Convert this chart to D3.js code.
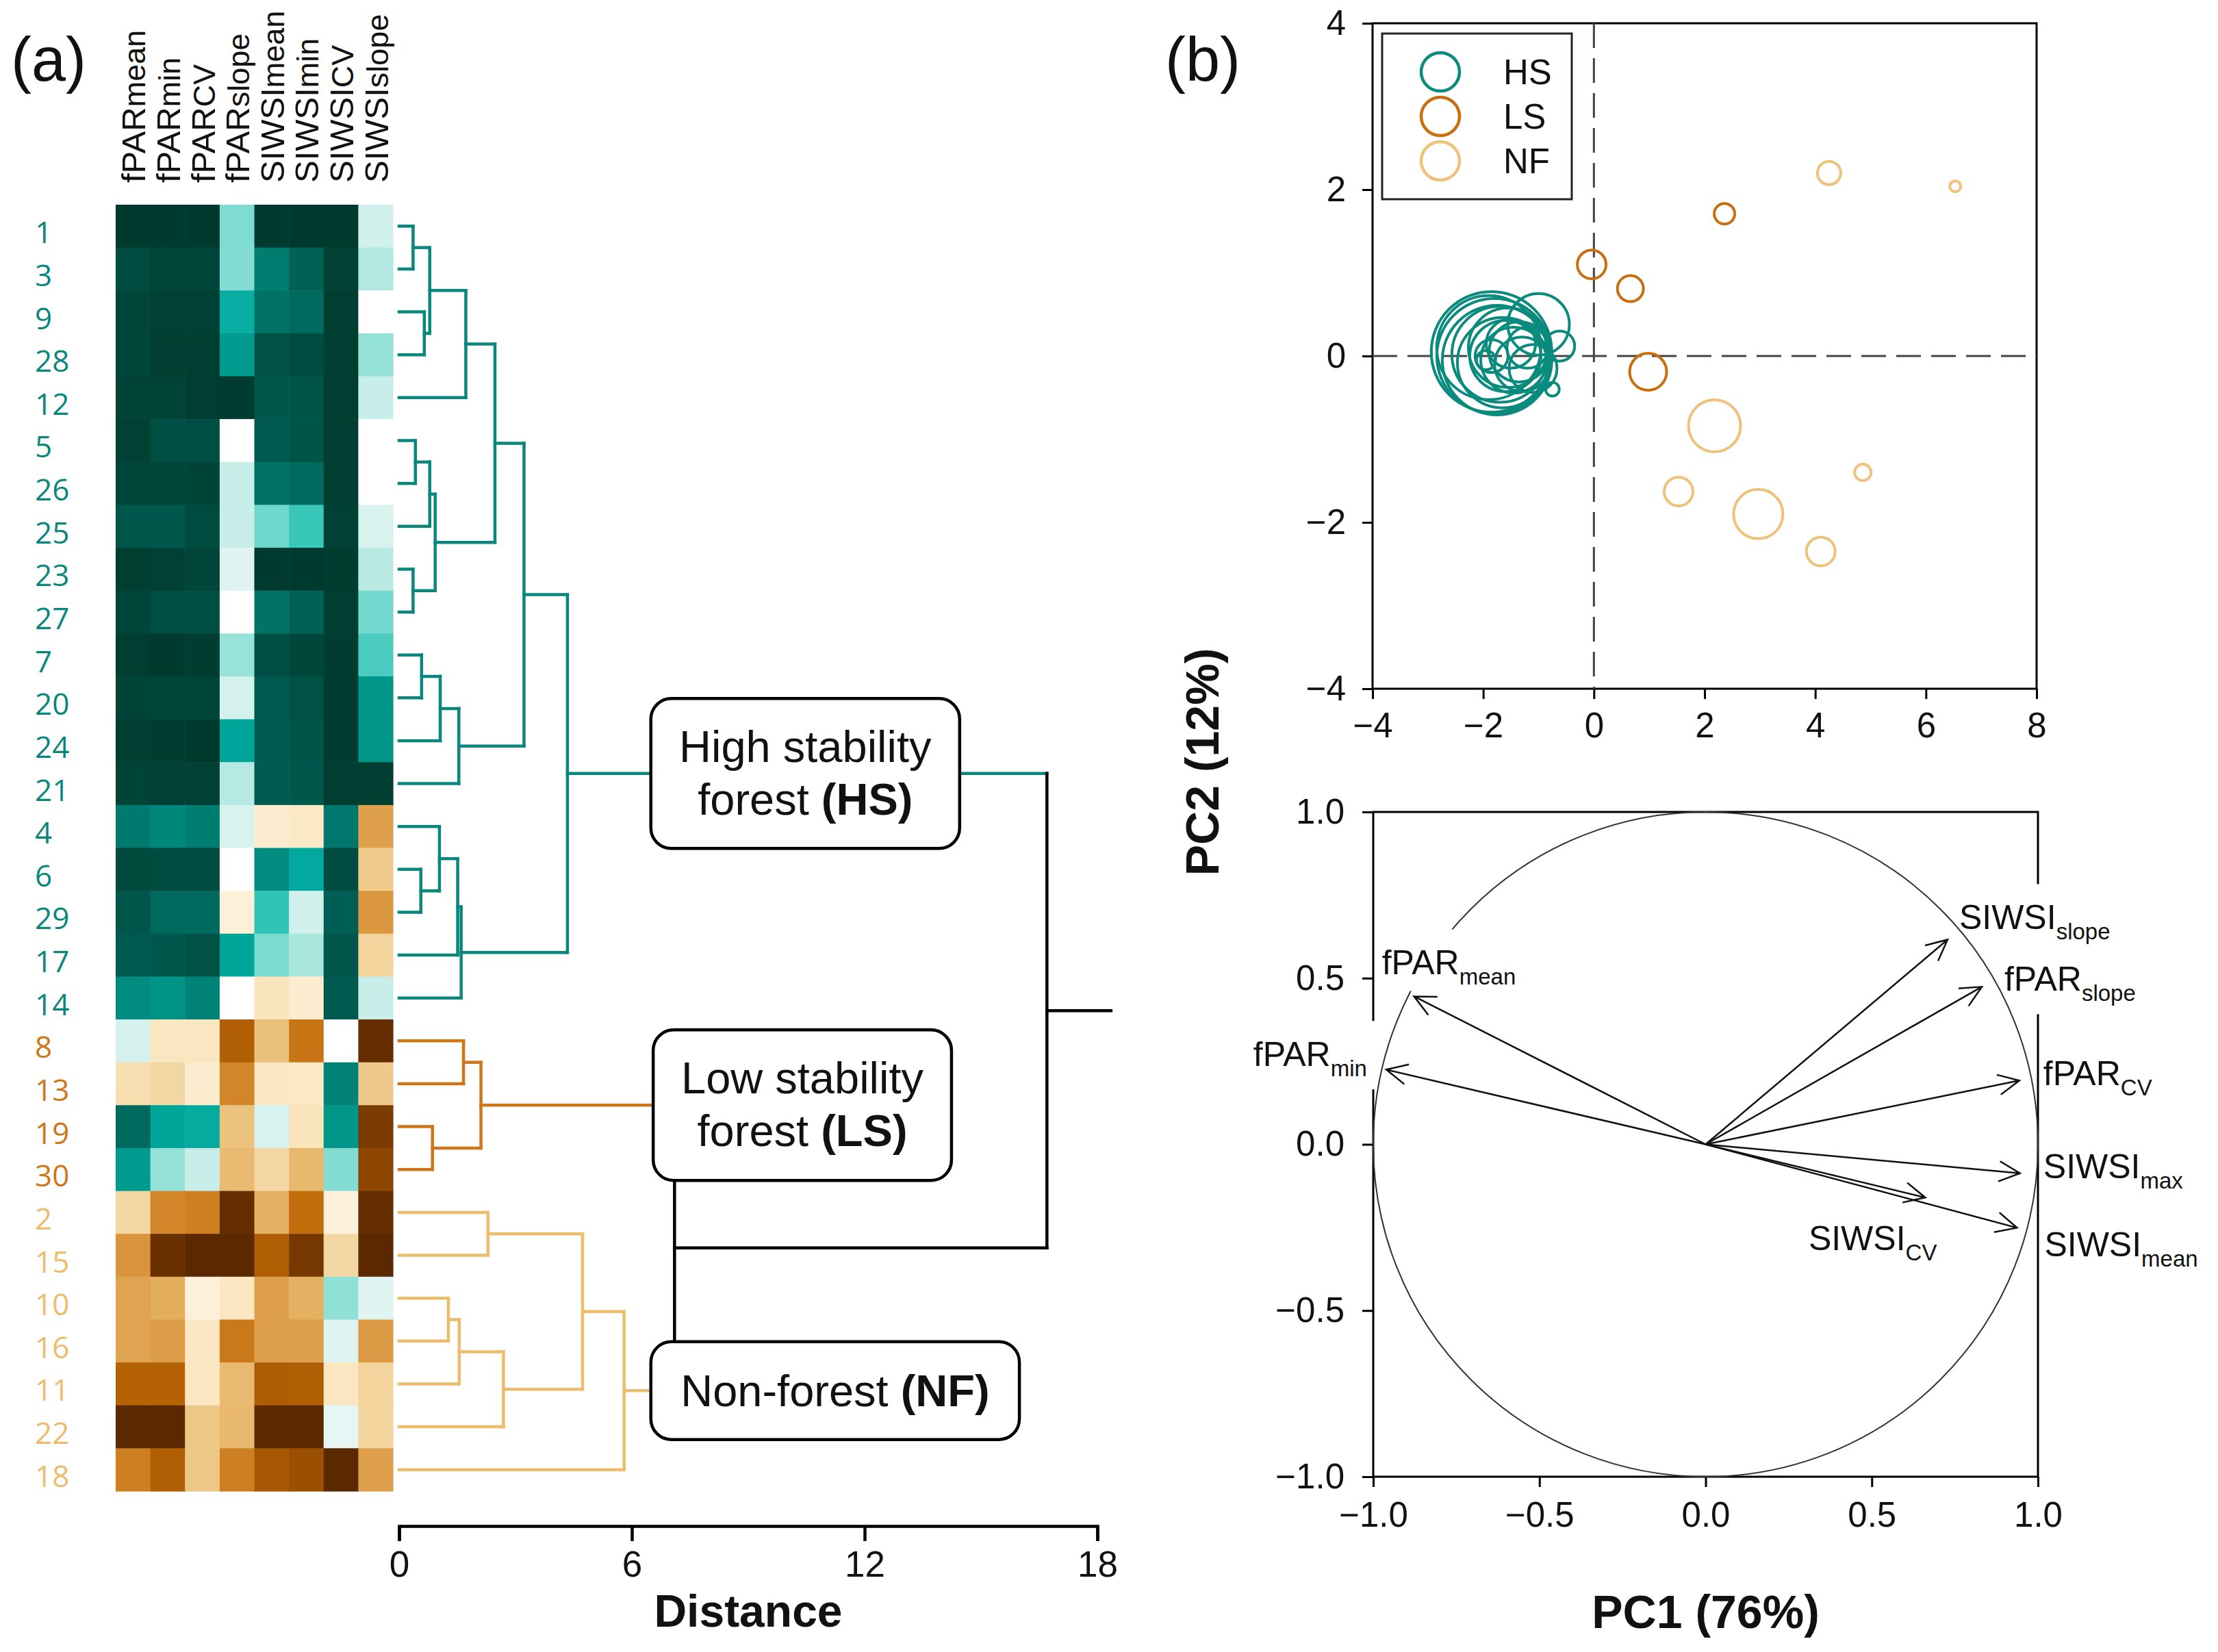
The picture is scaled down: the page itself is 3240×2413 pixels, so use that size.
<!DOCTYPE html>
<html>
<head>
<meta charset="utf-8">
<script src="https://cdn.jsdelivr.net/npm/d3@7"></script>
<style>
body { margin: 0; background: #fff; }
text { font-family: "Liberation Sans", Arial, sans-serif; fill: #111; }
</style>
</head>
<body>
<div id="plot"></div>
<script>
// ---------------- data ----------------
// heatmap columns (name|subscript)
var variables = ["fPAR|mean", "fPAR|min", "fPAR|CV", "fPAR|slope", "SIWSI|mean", "SIWSI|min", "SIWSI|CV", "SIWSI|slope"];
// sites, in dendrogram order
var rowIds = [1, 3, 9, 28, 12, 5, 26, 25, 23, 27, 7, 20, 24, 21, 4, 6, 29, 17, 14, 8, 13, 19, 30, 2, 15, 10, 16, 11, 22, 18];
var rowGroup = ["HS","HS","HS","HS","HS","HS","HS","HS","HS","HS","HS","HS","HS","HS","HS","HS","HS","HS","HS",
                "LS","LS","LS","LS","NF","NF","NF","NF","NF","NF","NF"];
// standardised values (-1 brown .. +1 teal), one row per site
var heatValues = [
  [1.00, 1.00, 1.00, 0.25, 1.00, 1.00, 1.00, 0.08],
  [0.92, 0.95, 0.95, 0.24, 0.72, 0.82, 0.97, 0.15],
  [0.95, 0.97, 0.97, 0.52, 0.76, 0.79, 0.98, 0.00],
  [0.95, 0.98, 0.98, 0.60, 0.89, 0.92, 0.98, 0.21],
  [0.96, 0.96, 0.98, 0.99, 0.86, 0.88, 0.98, 0.10],
  [0.97, 0.90, 0.90, 0.00, 0.85, 0.88, 0.98, 0.00],
  [0.95, 0.95, 0.96, 0.10, 0.76, 0.79, 0.98, 0.00],
  [0.87, 0.87, 0.92, 0.10, 0.28, 0.38, 0.97, 0.06],
  [0.98, 0.97, 0.95, 0.05, 1.00, 1.00, 0.99, 0.13],
  [0.95, 0.90, 0.90, 0.00, 0.76, 0.82, 0.98, 0.27],
  [0.98, 1.00, 0.99, 0.20, 0.90, 0.94, 0.99, 0.35],
  [0.96, 0.95, 0.95, 0.07, 0.85, 0.89, 0.99, 0.62],
  [0.98, 0.99, 1.00, 0.56, 0.85, 0.88, 0.99, 0.62],
  [0.96, 0.97, 0.97, 0.14, 0.85, 0.86, 0.98, 0.98],
  [0.73, 0.68, 0.72, 0.06, -0.05, -0.06, 0.74, -0.33],
  [0.93, 0.92, 0.92, 0.00, 0.66, 0.54, 0.92, -0.17],
  [0.87, 0.79, 0.79, -0.04, 0.40, 0.08, 0.83, -0.36],
  [0.85, 0.86, 0.89, 0.56, 0.26, 0.17, 0.87, -0.14],
  [0.66, 0.63, 0.70, 0.00, -0.08, -0.05, 0.85, 0.10],
  [0.07, -0.07, -0.07, -0.62, -0.22, -0.50, 0.00, -0.95],
  [-0.10, -0.13, -0.05, -0.42, -0.07, -0.06, 0.70, -0.18],
  [0.79, 0.56, 0.53, -0.21, 0.06, -0.08, 0.62, -0.85],
  [0.60, 0.21, 0.10, -0.24, -0.13, -0.25, 0.24, -0.78],
  [-0.13, -0.42, -0.45, -0.95, -0.28, -0.53, -0.04, -0.95],
  [-0.37, -0.93, -0.99, -0.99, -0.62, -0.88, -0.13, -0.99],
  [-0.32, -0.29, -0.04, -0.07, -0.33, -0.28, 0.22, 0.05],
  [-0.32, -0.34, -0.07, -0.48, -0.33, -0.33, 0.05, -0.35],
  [-0.60, -0.60, -0.07, -0.24, -0.63, -0.62, -0.07, -0.14],
  [-0.99, -0.99, -0.19, -0.25, -0.99, -0.99, 0.04, -0.14],
  [-0.45, -0.62, -0.19, -0.45, -0.66, -0.72, -0.99, -0.33]
];
// hierarchical clustering merges: a, b = site number or merge id, h = distance
var merges = [
  {id: "m1",  a: 1,     b: 3,     h: 0.36, group: "HS"},
  {id: "m2",  a: 9,     b: 28,    h: 0.65, group: "HS"},
  {id: "m3",  a: "m1",  b: "m2",  h: 0.79, group: "HS"},
  {id: "m4",  a: "m3",  b: 12,    h: 1.72, group: "HS"},
  {id: "m5",  a: 5,     b: 26,    h: 0.42, group: "HS"},
  {id: "m6",  a: "m5",  b: 25,    h: 0.79, group: "HS"},
  {id: "m7",  a: 23,    b: 27,    h: 0.36, group: "HS"},
  {id: "m8",  a: "m6",  b: "m7",  h: 0.93, group: "HS"},
  {id: "m9",  a: "m4",  b: "m8",  h: 2.47, group: "HS"},
  {id: "m10", a: 7,     b: 20,    h: 0.58, group: "HS"},
  {id: "m11", a: "m10", b: 24,    h: 1.06, group: "HS"},
  {id: "m12", a: "m11", b: 21,    h: 1.54, group: "HS"},
  {id: "m13", a: "m9",  b: "m12", h: 3.22, group: "HS"},
  {id: "m14", a: 6,     b: 29,    h: 0.56, group: "HS"},
  {id: "m15", a: 4,     b: "m14", h: 1.04, group: "HS"},
  {id: "m16", a: "m15", b: 17,    h: 1.51, group: "HS"},
  {id: "m17", a: "m16", b: 14,    h: 1.60, group: "HS"},
  {id: "m18", a: "m13", b: "m17", h: 4.34, group: "HS"},
  {id: "m19", a: 8,     b: 13,    h: 1.66, group: "LS"},
  {id: "m20", a: 19,    b: 30,    h: 0.86, group: "LS"},
  {id: "m21", a: "m19", b: "m20", h: 2.11, group: "LS"},
  {id: "m22", a: 2,     b: 15,    h: 2.29, group: "NF"},
  {id: "m23", a: 10,    b: 16,    h: 1.27, group: "NF"},
  {id: "m24", a: "m23", b: 11,    h: 1.55, group: "NF"},
  {id: "m25", a: "m24", b: 22,    h: 2.69, group: "NF"},
  {id: "m26", a: "m22", b: "m25", h: 4.73, group: "NF"},
  {id: "m27", a: "m26", b: 18,    h: 5.80, group: "NF"},
  {id: "m28", a: "m21", b: "m27", h: 7.10, group: null},
  {id: "m29", a: "m18", b: "m28", h: 16.70, group: null}
];
var rootStemEnd = 18.35;
var distanceTicks = [0, 6, 12, 18];

// PCA scores (b, top) and bubble size
var groups = ["HS", "LS", "NF"];
var hsPC1 = [-1.85, -1.80, -1.75, -1.90, -1.70, -1.65, -1.55, -1.60, -1.45, -1.35, -1.30, -1.50, -1.85, -1.95, -1.00, -0.62, -0.75, -1.20, -1.10];
var hsPC2 = [0.05, 0.00, -0.05, 0.10, 0.02, -0.08, 0.10, 0.00, -0.05, 0.05, -0.10, 0.15, 0.00, -0.05, 0.38, 0.12, -0.40, 0.10, -0.15];
var hsSize = [8.8, 8.4, 8.0, 7.6, 7.0, 6.6, 5.8, 5.2, 4.8, 4.4, 4.0, 3.6, 2.4, 1.4, 4.5, 2.2, 1.0, 3.0, 3.5];
var lsPC1 = [2.36, -0.04, 0.66, 0.98];
var lsPC2 = [1.71, 1.10, 0.81, -0.19];
var lsSize = [1.5, 2.1, 1.9, 2.7];
var nfPC1 = [4.25, 6.53, 2.18, 4.86, 1.53, 2.97, 4.10];
var nfPC2 = [2.20, 2.04, -0.84, -1.40, -1.63, -1.90, -2.35];
var nfSize = [1.7, 0.8, 3.8, 1.2, 2.1, 3.6, 2.1];
var scoreXTicks = [-4, -2, 0, 2, 4, 6, 8];
var scoreYTicks = [-4, -2, 0, 2, 4];

// PCA loadings (b, bottom)
var loadNames = ["fPAR|mean", "fPAR|min", "SIWSI|slope", "fPAR|slope", "fPAR|CV", "SIWSI|max", "SIWSI|mean", "SIWSI|CV"];
var loadPC1 = [-0.877, -0.961, 0.728, 0.831, 0.944, 0.946, 0.937, 0.661];
var loadPC2 = [0.445, 0.225, 0.616, 0.474, 0.192, -0.087, -0.251, -0.160];
var loadTicks = [-1, -0.5, 0, 0.5, 1];

// ---------------- drawing ----------------
var groupColor = {HS: "#0a877c", LS: "#cd761a", NF: "#ebbd6c"};
var bubbleColor = {HS: "#0b8a7e", LS: "#c8700f", NF: "#eec27a"};

var svg = d3.select("#plot").append("svg")
  .attr("width", 3240).attr("height", 2413);

function subLabel(sel, name, big, small, shift) {
  var p = name.split("|");
  sel.append("tspan").style("font-size", big + "px").text(p[0]);
  sel.append("tspan").style("font-size", small + "px").attr("dy", shift).text(p[1]);
}

// panel labels
svg.append("text").attr("x", 16).attr("y", 118).style("font-size", "90px").text("(a)");
svg.append("text").attr("x", 1702).attr("y", 118).style("font-size", "90px").text("(b)");

// ---- heatmap ----
var heatX = d3.scaleBand().domain(variables).range([169, 574]);
var heatY = d3.scaleBand().domain(rowIds).range([299, 2178]);
var heatColor = d3.scaleLinear()
  .domain([-1, -0.85, -0.7, -0.55, -0.4, -0.28, -0.16, -0.06, 0, 0.06, 0.16, 0.28, 0.4, 0.55, 0.7, 0.85, 1])
  .range(["#5a2700", "#7a3c00", "#a05200", "#bf6a08", "#d68a2e", "#e4b062", "#f0cf92", "#fbe9c6", "#ffffff",
           "#d8f2ee", "#aee7e0", "#6fd8cc", "#2ec4b6", "#00a79c", "#008276", "#005a4f", "#003a2e"])
  .clamp(true);

var heat = svg.append("g");
heat.selectAll("g")
  .data(rowIds)
  .join("g")
  .attr("transform", function(d) { return "translate(0," + heatY(d) + ")"; })
  .selectAll("rect")
  .data(function(d, i) { return variables.map(function(v, j) { return {v: v, value: heatValues[i][j]}; }); })
  .join("rect")
    .attr("x", function(d) { return heatX(d.v); })
    .attr("y", 0)
    .attr("width", heatX.bandwidth() + 0.6)
    .attr("height", heatY.bandwidth() + 0.6)
    .attr("fill", function(d) { return heatColor(d.value); });

// row labels
svg.append("g").selectAll("text")
  .data(rowIds)
  .join("text")
    .attr("x", 51)
    .attr("y", function(d) { return heatY(d) + heatY.bandwidth() / 2 + 25; })
    .style("font-family", "'Open Sans', 'Noto Sans', sans-serif")
    .style("font-size", "44px")
    .style("fill", function(d, i) { return groupColor[rowGroup[i]]; })
    .text(function(d) { return d; });

// column headers (rotated)
svg.append("g").selectAll("text")
  .data(variables)
  .join("text")
    .attr("transform", function(d) { return "translate(" + (heatX(d) + heatX.bandwidth() / 2 + 18) + ",267) rotate(-90)"; })
    .each(function(d) { subLabel(d3.select(this), d, 49, 45, 0); });

// ---- dendrogram ----
var dx = d3.scaleLinear().domain([0, 18]).range([583, 1603]);
var nodes = {};
rowIds.forEach(function(id, i) {
  nodes[id] = {y: heatY(id) + heatY.bandwidth() / 2, h: 0, group: rowGroup[i]};
});
merges.forEach(function(m) {
  nodes[m.id] = {y: (nodes[m.a].y + nodes[m.b].y) / 2, h: m.h, group: m.group};
});
function lineColor(g) { return g ? groupColor[g] : "#000"; }

var dendro = svg.append("g")
  .attr("fill", "none").attr("stroke-width", 4.5).attr("stroke-linecap", "square");
merges.forEach(function(m) {
  [m.a, m.b].forEach(function(c) {
    var n = nodes[c];
    dendro.append("path")
      .attr("d", "M" + dx(n.h) + "," + n.y + "H" + dx(m.h))
      .attr("stroke", lineColor(n.group));
  });
  dendro.append("path")
    .attr("d", "M" + dx(m.h) + "," + nodes[m.a].y + "V" + nodes[m.b].y)
    .attr("stroke", lineColor(m.group));
});
var root = nodes[merges[merges.length - 1].id];
dendro.append("path")
  .attr("d", "M" + dx(root.h) + "," + root.y + "H" + dx(rootStemEnd))
  .attr("stroke", "#000");

// cluster boxes, centred on each cluster root
var boxes = [
  {node: "m18", from: 6.49, to: 14.45, height: 219, lines: [["High stability", ""], ["forest ", "(HS)"]]},
  {node: "m21", from: 6.55, to: 14.24, height: 220, lines: [["Low stability", ""], ["forest ", "(LS)"]]},
  {node: "m27", from: 6.49, to: 15.99, height: 143, lines: [["Non-forest ", "(NF)"]]}
];
boxes.forEach(function(b) {
  var cy = nodes[b.node].y;
  var g = svg.append("g");
  g.append("rect")
    .attr("x", dx(b.from)).attr("y", cy - b.height / 2)
    .attr("width", dx(b.to) - dx(b.from)).attr("height", b.height)
    .attr("rx", 30).attr("ry", 30)
    .attr("fill", "#fff").attr("stroke", "#000").attr("stroke-width", 4.5);
  b.lines.forEach(function(l, i) {
    var base = b.lines.length === 2 ? cy - 17 + i * 77 : cy + 23;
    var t = g.append("text")
      .attr("x", (dx(b.from) + dx(b.to)) / 2).attr("y", base)
      .attr("text-anchor", "middle").style("font-size", "65px");
    t.append("tspan").text(l[0]);
    if (l[1]) t.append("tspan").style("font-weight", "bold").text(l[1]);
  });
});

// distance axis
var distAxis = svg.append("g")
  .attr("transform", "translate(0,2229)")
  .call(d3.axisBottom(dx).tickValues(distanceTicks).tickSize(22).tickSizeOuter(22).tickPadding(14));
distAxis.selectAll("path, line").attr("stroke", "#000").attr("stroke-width", 4.5);
distAxis.selectAll("text").style("font-size", "53px").style("font-family", "'Liberation Sans', Arial, sans-serif").attr("fill", "#111");
svg.append("text")
  .attr("x", (dx(0) + dx(18)) / 2).attr("y", 2376)
  .attr("text-anchor", "middle")
  .style("font-size", "66px").style("font-weight", "bold")
  .text("Distance");

// ---- PCA scores ----
var sx = d3.scaleLinear().domain([-4, 8]).range([2005, 2975]);
var sy = d3.scaleLinear().domain([-4, 4]).range([1006, 34]);

function styleAxis(g, size) {
  g.select(".domain").remove();
  g.selectAll("line").attr("stroke", "#000").attr("stroke-width", 3);
  g.selectAll("text").style("font-size", size + "px").style("font-family", "'Liberation Sans', Arial, sans-serif").attr("fill", "#111");
}
var scoreAxes = svg.append("g");
scoreAxes.append("g").attr("transform", "translate(0," + sy(-4) + ")")
  .call(d3.axisBottom(sx).tickValues(scoreXTicks).tickSize(15).tickPadding(20).tickFormat(d3.format("d")))
  .call(styleAxis, 51);
scoreAxes.append("g").attr("transform", "translate(" + sx(-4) + ",0)")
  .call(d3.axisLeft(sy).tickValues(scoreYTicks).tickSize(15).tickPadding(24).tickFormat(d3.format("d")))
  .call(styleAxis, 51);
svg.append("rect")
  .attr("x", sx(-4)).attr("y", sy(4))
  .attr("width", sx(8) - sx(-4)).attr("height", sy(-4) - sy(4))
  .attr("fill", "none").attr("stroke", "#000").attr("stroke-width", 3);

// zero reference lines
svg.append("line")
  .attr("x1", sx(-4)).attr("x2", sx(8)).attr("y1", sy(0)).attr("y2", sy(0))
  .attr("stroke", "#444").attr("stroke-width", 3).attr("stroke-dasharray", "36,15");
svg.append("line")
  .attr("x1", sx(0)).attr("x2", sx(0)).attr("y1", sy(4)).attr("y2", sy(-4))
  .attr("stroke", "#444").attr("stroke-width", 3).attr("stroke-dasharray", "36,15");

var rScale = d3.scaleLinear().domain([0, 10]).range([0, 100]);
var scores = [];
hsPC1.forEach(function(v, i) { scores.push({g: "HS", x: v, y: hsPC2[i], s: hsSize[i]}); });
lsPC1.forEach(function(v, i) { scores.push({g: "LS", x: v, y: lsPC2[i], s: lsSize[i]}); });
nfPC1.forEach(function(v, i) { scores.push({g: "NF", x: v, y: nfPC2[i], s: nfSize[i]}); });
svg.append("g").selectAll("circle")
  .data(scores)
  .join("circle")
    .attr("cx", function(d) { return sx(d.x); })
    .attr("cy", function(d) { return sy(d.y); })
    .attr("r", function(d) { return rScale(d.s); })
    .attr("fill", "none")
    .attr("stroke", function(d) { return bubbleColor[d.g]; })
    .attr("stroke-width", 4);

// legend
var legend = svg.append("g");
legend.append("rect")
  .attr("x", 2019).attr("y", 49).attr("width", 277).attr("height", 242)
  .attr("fill", "#fff").attr("stroke", "#222").attr("stroke-width", 3);
var li = legend.selectAll("g.item").data(groups).join("g")
  .attr("transform", function(d, i) { return "translate(2104," + (105 + i * 65) + ")"; });
li.append("circle").attr("r", 28).attr("fill", "none")
  .attr("stroke", function(d) { return bubbleColor[d]; }).attr("stroke-width", 4.5);
li.append("text").attr("x", 92).attr("dy", "0.36em").style("font-size", "51px").text(function(d) { return d; });

svg.append("text")
  .attr("transform", "translate(1780,1113) rotate(-90)")
  .attr("text-anchor", "middle")
  .style("font-size", "68px").style("font-weight", "bold")
  .text("PC2 (12%)");

// ---- PCA loadings ----
var lx = d3.scaleLinear().domain([-1, 1]).range([2006, 2977]);
var ly = d3.scaleLinear().domain([-1, 1]).range([2157, 1186]);
var loadAxes = svg.append("g");
loadAxes.append("g").attr("transform", "translate(0," + ly(-1) + ")")
  .call(d3.axisBottom(lx).tickValues(loadTicks).tickSize(15).tickPadding(22).tickFormat(d3.format(".1f")))
  .call(styleAxis, 51);
loadAxes.append("g").attr("transform", "translate(" + lx(-1) + ",0)")
  .call(d3.axisLeft(ly).tickValues(loadTicks).tickSize(16).tickPadding(26).tickFormat(d3.format(".1f")))
  .call(styleAxis, 51);
svg.append("rect")
  .attr("x", lx(-1)).attr("y", ly(1))
  .attr("width", lx(1) - lx(-1)).attr("height", ly(-1) - ly(1))
  .attr("fill", "none").attr("stroke", "#000").attr("stroke-width", 3);

// label placement relative to the arrow tip (px); cut = label also hides the circle
var loadLabelPlace = [
  {dx: -47, dy: -32, anchor: "start", cut: true},
  {dx: -28, dy: -5, anchor: "end"},
  {dx: 17, dy: -15, anchor: "start"},
  {dx: 33, dy: 6, anchor: "start"},
  {dx: 35, dy: 7, anchor: "start"},
  {dx: 34, dy: 7, anchor: "start"},
  {dx: 40, dy: 42, anchor: "start"},
  {dx: 17, dy: 77, anchor: "end"}
];
var boxLayer = svg.append("g");
var circleLayer = svg.append("g");
var cutLayer = svg.append("g");
var arrows = svg.append("g").attr("stroke", "#111").attr("stroke-width", 2.5).attr("fill", "none");
var loadLabels = svg.append("g");

circleLayer.append("ellipse")
  .attr("cx", lx(0)).attr("cy", ly(0))
  .attr("rx", lx(1) - lx(0)).attr("ry", ly(0) - ly(1))
  .attr("fill", "none").attr("stroke", "#333").attr("stroke-width", 2);

loadNames.forEach(function(n, i) {
  var p = loadLabelPlace[i];
  var base = ly(loadPC2[i]) + p.dy;
  var t = loadLabels.append("text")
    .attr("x", lx(loadPC1[i]) + p.dx).attr("y", base)
    .attr("text-anchor", p.anchor);
  subLabel(t, n, 50, 33, 15);
  // white box behind the label: hides the frame like the original
  var bb = t.node().getBBox();
  (p.cut ? cutLayer : boxLayer).append("rect")
    .attr("x", bb.x - 4).attr("y", base - 66)
    .attr("width", bb.width + 16).attr("height", p.cut ? 90 : 100)
    .attr("fill", "#fff");
});

// arrows
loadPC1.forEach(function(v, i) {
  var x0 = lx(0), y0 = ly(0), x1 = lx(v), y1 = ly(loadPC2[i]);
  var ang = Math.atan2(y1 - y0, x1 - x0), len = 34, spread = 0.45;
  var ax = x1 - len * Math.cos(ang - spread), ay = y1 - len * Math.sin(ang - spread);
  var bx = x1 - len * Math.cos(ang + spread), by = y1 - len * Math.sin(ang + spread);
  arrows.append("path")
    .attr("d", "M" + x0 + "," + y0 + "L" + x1 + "," + y1 + "M" + ax + "," + ay + "L" + x1 + "," + y1 + "L" + bx + "," + by);
});

svg.append("text")
  .attr("x", lx(0)).attr("y", 2378)
  .attr("text-anchor", "middle")
  .style("font-size", "68px").style("font-weight", "bold")
  .text("PC1 (76%)");
</script>
</body>
</html>
